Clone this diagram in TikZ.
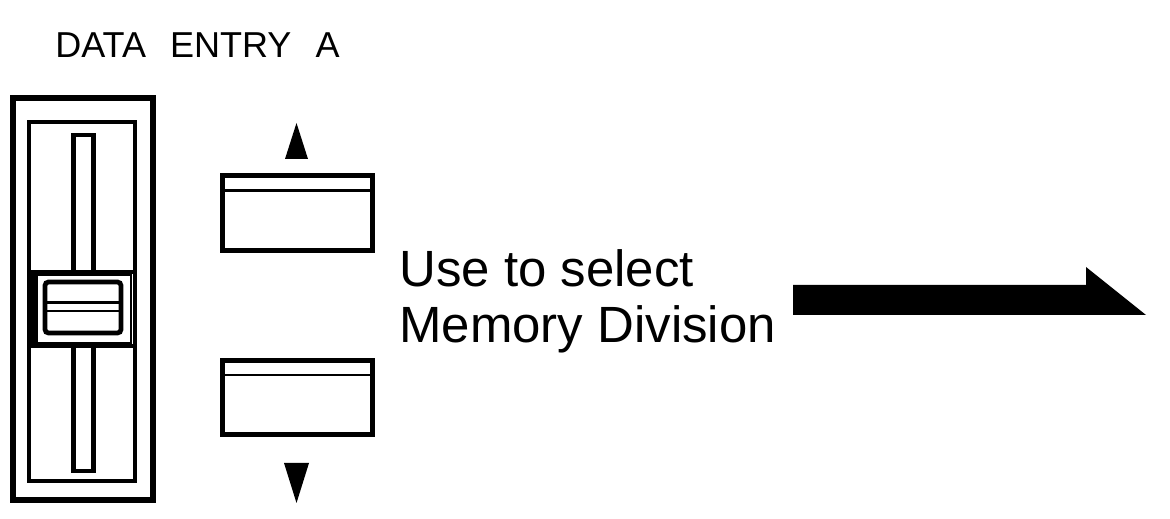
\documentclass[tikz,border=0pt]{standalone}
\usepackage{fontspec}
\setmainfont{Liberation Sans}
\newfontfamily\panelfont[WordSpace=2.4]{Liberation Sans}
\usetikzlibrary{positioning, calc}

\begin{document}
\begin{tikzpicture}[
    x=0.02cm, y=-0.02cm,
    frame/.style={draw=black, line width=3.4pt},
    part/.style={draw=black, line width=2.7pt},
    fine/.style={draw=black, line width=1.6pt},
    button/.style={rectangle, draw=black, line width=2.7pt, fill=white,
        minimum width=3cm, minimum height=1.5cm, inner sep=0pt},
    caption/.style={anchor=base west, inner sep=0pt, font=\fontsize{29}{33}\selectfont},
    panel/.style={anchor=base west, inner sep=0pt, font=\panelfont\fontsize{20.5}{24}\selectfont}
]
\useasboundingbox (0,0) rectangle (1170,519);

%% Panel label
\node[panel] (title) at (55,58) {DATA ENTRY A};

%% ── Slider (fader) ──────────────────────────────────────────────
\draw[frame] (13,98) rectangle (153,500);
\draw[part]  (29,122) rectangle (135,481);

% slot above and below the knob
\draw[part] (73.5,135) rectangle (93.5,272);
\draw[part] (73.5,346) rectangle (93.5,471);

% knob
\draw[part, fill=white] (29,272) rectangle (135,346);
\fill[black] (29,272) rectangle (37,346);
\draw[fine] (37,275) rectangle (131,343);
\draw[part, rounded corners=2pt] (45,282) rectangle (121,333);
\draw[fine] (45,302.5) -- (121,302.5);
\draw[fine] (45,311) -- (121,311);

%% ── Up / down buttons ──────────────────────────────────────────
\node[button] (btnup)   at (297.5,213)   {};
\node[button, minimum height=1.48cm] (btndown) at (297.5,397.5) {};
\draw[fine] (222.5,190.5) -- (372.5,190.5);
\draw[fine] (222.5,375) -- (372.5,375);

\fill[black] (296.5,123) -- (308,159) -- (285,159) -- cycle;
\fill[black] (284,463) -- (309,463) -- (296.5,503) -- cycle;

%% ── Caption ─────────────────────────────────────────────────────
\node[caption] (usetxt) at (399,287) {Use to select};
\node[caption] (memtxt) at (399,343) {Memory Division};

%% ── Half-headed arrow ───────────────────────────────────────────
\fill[black] (793,285) -- (1086,285) -- (1086,267) -- (1146,315)
    -- (793,315) -- cycle;

\end{tikzpicture}
\end{document}
